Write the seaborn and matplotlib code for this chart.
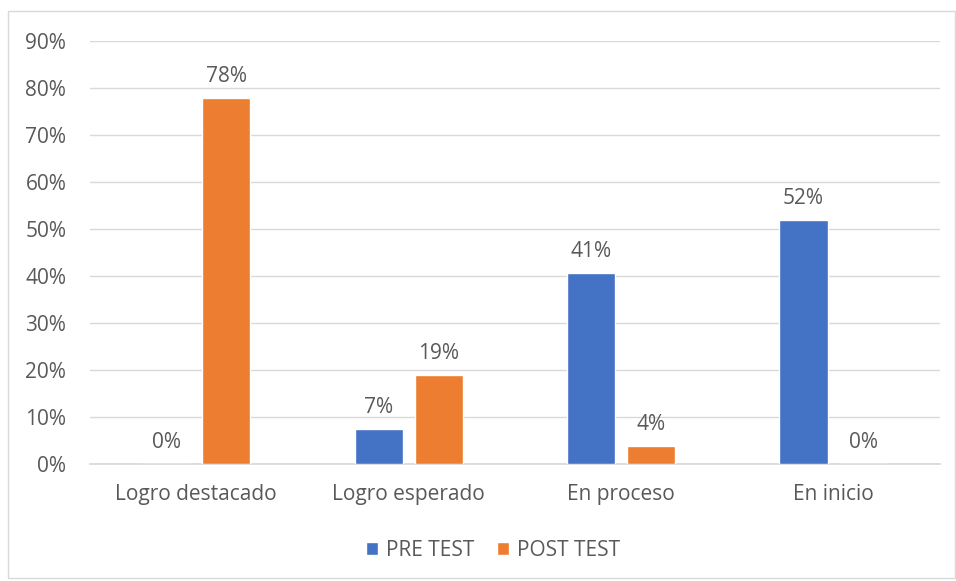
import matplotlib
matplotlib.use("Agg")
import matplotlib.pyplot as plt
from matplotlib.patches import Rectangle
from matplotlib.ticker import PercentFormatter
import pandas as pd
import seaborn as sns

# Datos (%)
categorias = ["Logro destacado", "Logro esperado", "En proceso", "En inicio"]
pre_test = [0.0, 7.4, 40.7, 51.9]
post_test = [78.0, 19.0, 3.8, 0.0]
series = ["PRE TEST", "POST TEST"]
colores = ["#4472C4", "#ED7D31"]

df = pd.DataFrame({
    "Nivel": categorias * 2,
    "Porcentaje": pre_test + post_test,
    "Prueba": [series[0]] * 4 + [series[1]] * 4,
})

sns.set_theme(style="white")
plt.rcParams["font.family"] = ["Open Sans", "DejaVu Sans"]
gris = "#595959"
fs = 15

fig = plt.figure(figsize=(9.56, 5.81), dpi=100)
ax = fig.add_axes([0.094, 0.201, 0.889, 0.728])

sns.barplot(data=df, x="Nivel", y="Porcentaje", hue="Prueba",
            palette=colores, width=0.565, gap=0.2, saturation=1,
            ax=ax, zorder=3)

# Etiquetas sobre las barras
for cont in ax.containers:
    ax.bar_label(cont, labels=[f"{v:.0f}%" for v in cont.datavalues],
                 padding=8, fontsize=fs, color=gris)

ax.set_ylim(0, 90)
ax.set_yticks(range(0, 91, 10))
ax.yaxis.set_major_formatter(PercentFormatter(decimals=0))
ax.grid(axis="y", color="#D9D9D9", linewidth=1, zorder=0)
ax.set_axisbelow(True)
for s in ["top", "right", "left"]:
    ax.spines[s].set_visible(False)
ax.spines["bottom"].set_color("#D9D9D9")
ax.set_xlabel("")
ax.set_ylabel("")
ax.tick_params(axis="both", length=0, labelsize=fs, colors=gris)
ax.tick_params(axis="x", pad=14)
ax.tick_params(axis="y", pad=17)

leg = ax.legend(loc="upper center", bbox_to_anchor=(0.474, -0.135), ncol=2,
                frameon=False, fontsize=fs, handlelength=0.6, handleheight=0.6,
                columnspacing=1.1, handletextpad=0.35)
for t in leg.get_texts():
    t.set_color(gris)

fig.patches.append(Rectangle((0.008, 0.005), 0.991, 0.976, transform=fig.transFigure,
                             fill=False, edgecolor="#D9D9D9", linewidth=1))

fig.savefig("out.png", dpi=100)
